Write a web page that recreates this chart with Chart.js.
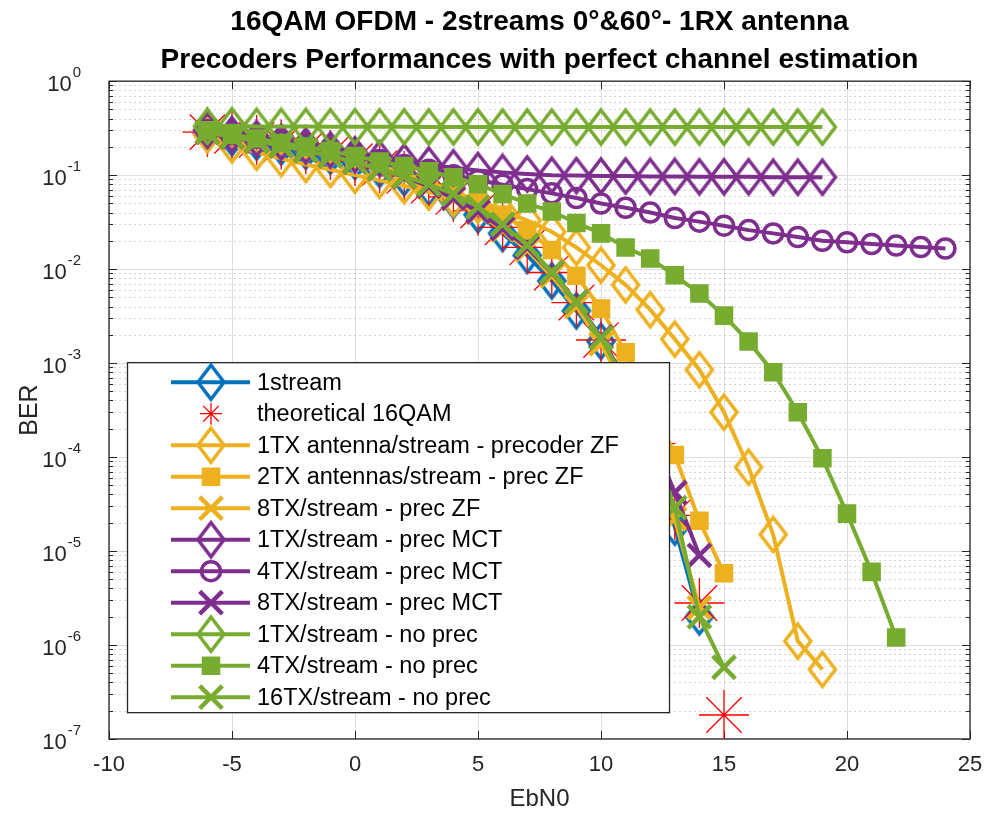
<!DOCTYPE html>
<html>
<head>
<meta charset="utf-8">
<title>16QAM OFDM precoders BER</title>
<script src="https://cdn.jsdelivr.net/npm/chart.js@4.4.0/dist/chart.umd.min.js"></script>
<style>
  body { margin: 0; background: #fff; }
  canvas { display: block; }
</style>
</head>
<body>
<canvas id="berChart" width="987" height="821"></canvas>
<script>
// EbN0 points (dB); each series starts at -6 and uses as many as it has values
const ebn0 = [-6, -5, -4, -3, -2, -1, 0, 1, 2, 3, 4, 5, 6, 7, 8, 9, 10, 11, 12, 13, 14, 15, 16, 17, 18, 19, 20, 21, 22, 23, 24];

const seriesNames = [
    '1stream',
    'theoretical 16QAM',
    '1TX antenna/stream - precoder ZF',
    '2TX antennas/stream - prec ZF',
    '8TX/stream - prec ZF',
    '1TX/stream - prec MCT',
    '4TX/stream - prec MCT',
    '8TX/stream - prec MCT',
    '1TX/stream - no prec',
    '4TX/stream - no prec',
    '16TX/stream - no prec'
];

const berOneStream = [0.28, 0.25, 0.225, 0.2, 0.18, 0.16, 0.14, 0.115, 0.094, 0.073, 0.054, 0.038, 0.024, 0.014, 0.0075, 0.0036, 0.0017, 5.5e-4, 1.3e-4, 1.8e-5, 2.0e-6];
const berTheory = [0.287, 0.262, 0.237, 0.212, 0.188, 0.164, 0.141, 0.119, 0.098, 0.0775, 0.0586, 0.0419, 0.0278, 0.017, 0.0092, 0.0044, 0.00176, 5.6e-4, 1.39e-4, 2.4e-5, 2.8e-6, 1.8e-7];
const berZf1 = [0.27, 0.21, 0.175, 0.15, 0.13, 0.115, 0.1, 0.088, 0.077, 0.066, 0.056, 0.048, 0.041, 0.033, 0.025, 0.017, 0.011, 0.0068, 0.0037, 0.0018, 8.5e-4, 3.0e-4, 7.8e-5, 1.5e-5, 1.1e-6, 5.5e-7];
const berZf2 = [0.29, 0.26, 0.235, 0.21, 0.19, 0.165, 0.145, 0.125, 0.105, 0.085, 0.068, 0.052, 0.038, 0.026, 0.016, 0.0085, 0.0038, 0.0013, 4.2e-4, 1.05e-4, 2.1e-5, 5.8e-6];
const berZf8 = [0.285, 0.255, 0.23, 0.205, 0.183, 0.16, 0.138, 0.116, 0.095, 0.075, 0.056, 0.04, 0.026, 0.016, 0.0085, 0.004, 0.0016, 5.2e-4, 1.2e-4, 2.2e-5, 2.5e-6];
const berMct1 = [0.3, 0.27, 0.245, 0.225, 0.205, 0.185, 0.165, 0.15, 0.138, 0.128, 0.12, 0.112, 0.107, 0.103, 0.1, 0.099, 0.098, 0.098, 0.097, 0.097, 0.096, 0.096, 0.096, 0.095, 0.095, 0.095];
const berMct4 = [0.3, 0.27, 0.25, 0.232, 0.215, 0.192, 0.165, 0.145, 0.128, 0.114, 0.1, 0.089, 0.079, 0.071, 0.064, 0.057, 0.05, 0.045, 0.04, 0.035, 0.032, 0.029, 0.026, 0.024, 0.022, 0.02, 0.0193, 0.0185, 0.0178, 0.0172, 0.0166];
const berMct8 = [0.285, 0.255, 0.23, 0.205, 0.183, 0.16, 0.138, 0.117, 0.096, 0.076, 0.057, 0.041, 0.027, 0.017, 0.0092, 0.0045, 0.0019, 6.5e-4, 1.8e-4, 4.2e-5, 9.0e-6];
const berNp1 = [0.33, 0.335, 0.33, 0.33, 0.33, 0.328, 0.328, 0.327, 0.327, 0.326, 0.326, 0.326, 0.325, 0.325, 0.325, 0.325, 0.325, 0.325, 0.325, 0.325, 0.325, 0.325, 0.325, 0.325, 0.325, 0.325];
const berNp4 = [0.3, 0.27, 0.245, 0.22, 0.2, 0.18, 0.16, 0.14, 0.125, 0.11, 0.095, 0.08, 0.063, 0.05, 0.041, 0.031, 0.024, 0.017, 0.013, 0.0086, 0.0055, 0.0032, 0.0017, 8.0e-4, 3.0e-4, 9.7e-5, 2.5e-5, 6.0e-6, 1.2e-6];
const berNp16 = [0.285, 0.255, 0.23, 0.205, 0.183, 0.16, 0.138, 0.117, 0.097, 0.08, 0.063, 0.046, 0.03, 0.018, 0.0093, 0.0045, 0.00185, 6.2e-4, 1.6e-4, 2.9e-5, 2.0e-6, 5.8e-7];

const xTicks = [-10, -5, 0, 5, 10, 15, 20, 25];
const yDecades = [-7, -6, -5, -4, -3, -2, -1, 0];

const BLUE = '#0072BD', RED = '#FF0000', YELLOW = '#EDB120', PURPLE = '#7E2F8E', GREEN = '#77AC30';
const FONT = '"Liberation Sans", Arial, Helvetica, sans-serif';

// MATLAB-like diamond, a little taller than wide, as an image point style
function makeDiamond(color) {
    const c = document.createElement('canvas');
    c.width = 32; c.height = 40;
    const g = c.getContext('2d');
    g.strokeStyle = color;
    g.lineWidth = 3.5;
    g.beginPath();
    g.moveTo(16, 3); g.lineTo(29, 20); g.lineTo(16, 37); g.lineTo(3, 20); g.closePath();
    g.stroke();
    return c;
}

// marker / line look of each series
const looks = [
    { data: berOneStream, color: BLUE, marker: 'diamond', r: 14, bw: 3.5 },
    { data: berTheory, color: RED, marker: 'star', r: 25, bw: 1.3, noLine: true, legendR: 11 },
    { data: berZf1, color: YELLOW, marker: 'diamond', r: 14, bw: 3.5 },
    { data: berZf2, color: YELLOW, marker: 'rect', r: 11, bw: 3, fill: true },
    { data: berZf8, color: YELLOW, marker: 'crossRot', r: 16, bw: 4.5 },
    { data: berMct1, color: PURPLE, marker: 'diamond', r: 14, bw: 3.5 },
    { data: berMct4, color: PURPLE, marker: 'circle', r: 9.5, bw: 3.5 },
    { data: berMct8, color: PURPLE, marker: 'crossRot', r: 16, bw: 4.5 },
    { data: berNp1, color: GREEN, marker: 'diamond', r: 14, bw: 3.5 },
    { data: berNp4, color: GREEN, marker: 'rect', r: 11, bw: 3, fill: true },
    { data: berNp16, color: GREEN, marker: 'crossRot', r: 16, bw: 4.5 }
];
looks.forEach(s => { if (s.marker === 'diamond') s.img = makeDiamond(s.color); });

const datasets = looks.map((s, i) => ({
    label: seriesNames[i],
    data: s.data.map((v, k) => ({ x: ebn0[k], y: v })),
    borderColor: s.color,
    backgroundColor: s.color,
    borderWidth: 4,
    showLine: !s.noLine,
    pointStyle: s.img || s.marker,
    pointRadius: s.r,
    pointBorderWidth: s.bw,
    pointBorderColor: s.color,
    pointBackgroundColor: s.fill ? s.color : 'rgba(0,0,0,0)',
    tension: 0,
    order: 20 - i   // later series drawn on top, like MATLAB
}));

function drawMarker(ctx, s, x, y) {
    const r = s.legendR || s.r;
    const d = r * Math.SQRT1_2;
    if (s.img) {
        ctx.drawImage(s.img, x - s.img.width / 2, y - s.img.height / 2);
        return;
    }
    ctx.save();
    ctx.strokeStyle = s.color;
    ctx.fillStyle = s.color;
    ctx.lineWidth = s.bw;
    ctx.beginPath();
    if (s.marker === 'rect') {
        ctx.rect(x - d, y - d, 2 * d, 2 * d);
    } else if (s.marker === 'circle') {
        ctx.arc(x, y, r, 0, Math.PI * 2);
    } else if (s.marker === 'crossRot') {
        ctx.moveTo(x - d, y - d); ctx.lineTo(x + d, y + d);
        ctx.moveTo(x - d, y + d); ctx.lineTo(x + d, y - d);
    } else if (s.marker === 'star') {
        ctx.moveTo(x - r, y); ctx.lineTo(x + r, y);
        ctx.moveTo(x, y - r); ctx.lineTo(x, y + r);
        ctx.moveTo(x - d, y - d); ctx.lineTo(x + d, y + d);
        ctx.moveTo(x - d, y + d); ctx.lineTo(x + d, y - d);
    }
    if (s.fill) ctx.fill();
    ctx.stroke();
    ctx.restore();
}

// box, inner ticks, minor grid and y labels with exponents
const axesFrame = {
    id: 'axesFrame',
    beforeDatasetsDraw(chart) {
        const ctx = chart.ctx, a = chart.chartArea;
        const xs = chart.scales.x, ys = chart.scales.y;
        ctx.save();
        // minor grid (dotted)
        ctx.strokeStyle = 'rgba(38,38,38,0.2)';
        ctx.lineWidth = 1;
        ctx.setLineDash([2, 3]);
        for (const e of yDecades) {
            if (e === 0) continue;
            for (let m = 2; m <= 9; m++) {
                const py = Math.round(ys.getPixelForValue(m * Math.pow(10, e))) + 0.5;
                ctx.beginPath(); ctx.moveTo(a.left, py); ctx.lineTo(a.right, py); ctx.stroke();
            }
        }
        ctx.setLineDash([]);
        // ticks inside the box
        ctx.strokeStyle = '#262626';
        ctx.lineWidth = 1;
        for (const e of yDecades) {
            for (let m = 1; m <= 9; m++) {
                if (e === 0 && m > 1) break;
                const py = Math.round(ys.getPixelForValue(m * Math.pow(10, e))) + 0.5;
                const len = m === 1 ? 8 : 4;
                ctx.beginPath();
                ctx.moveTo(a.left, py); ctx.lineTo(a.left + len, py);
                ctx.moveTo(a.right, py); ctx.lineTo(a.right - len, py);
                ctx.stroke();
            }
        }
        for (const t of xTicks) {
            const px = Math.round(xs.getPixelForValue(t)) + 0.5;
            ctx.beginPath();
            ctx.moveTo(px, a.bottom); ctx.lineTo(px, a.bottom - 8);
            ctx.moveTo(px, a.top); ctx.lineTo(px, a.top + 8);
            ctx.stroke();
        }
        ctx.lineWidth = 1.3;
        ctx.strokeRect(a.left, a.top, a.right - a.left, a.bottom - a.top);
        // y tick labels 10^n
        ctx.fillStyle = '#262626';
        const rightX = a.left - 28;
        for (const e of yDecades) {
            const py = ys.getPixelForValue(Math.pow(10, e));
            const exp = String(e);
            ctx.font = '15px ' + FONT;
            const ew = ctx.measureText(exp).width;
            ctx.textAlign = 'left';
            ctx.textBaseline = 'middle';
            ctx.fillText(exp, rightX - ew, py - 8);
            ctx.font = '22px ' + FONT;
            ctx.textAlign = 'right';
            ctx.fillText('10', rightX - ew - 1, py + 4);
        }
        ctx.restore();
    }
};

// legend box drawn over the data, bottom-left inside the axes
const boxLegend = {
    id: 'boxLegend',
    afterDatasetsDraw(chart) {
        const ctx = chart.ctx, a = chart.chartArea;
        const left = a.left + 18, top = a.top + 281, w = 542, h = 350;
        ctx.save();
        ctx.fillStyle = '#fff';
        ctx.fillRect(left, top, w, h);
        ctx.strokeStyle = '#262626';
        ctx.lineWidth = 1.3;
        ctx.strokeRect(left + 0.5, top + 0.5, w, h);
        looks.forEach((s, i) => {
            const y = top + 20 + i * 31.5;
            if (!s.noLine) {
                ctx.strokeStyle = s.color;
                ctx.lineWidth = 4;
                ctx.beginPath(); ctx.moveTo(left + 44, y); ctx.lineTo(left + 123, y); ctx.stroke();
            }
            drawMarker(ctx, s, left + 84, y);
            ctx.fillStyle = '#000';
            ctx.font = '23.5px ' + FONT;
            ctx.textAlign = 'left';
            ctx.textBaseline = 'middle';
            ctx.fillText(seriesNames[i], left + 130, y + 1);
        });
        ctx.restore();
    }
};

new Chart(document.getElementById('berChart'), {
    type: 'line',
    data: { datasets },
    options: {
        responsive: false,
        animation: false,
        events: [],
        layout: { autoPadding: false, padding: { left: 0, right: 17, top: 0, bottom: 0 } },
        plugins: {
            legend: { display: false },
            tooltip: { enabled: false },
            title: {
                display: true,
                fullSize: false,
                text: ['16QAM OFDM - 2streams 0°&60°- 1RX antenna', 'Precoders Performances with perfect channel estimation'],
                color: '#000',
                font: { family: FONT, size: 28, weight: 'bold', lineHeight: 1.36 },
                padding: { top: 3, bottom: 2 }
            }
        },
        scales: {
            x: {
                type: 'linear',
                min: -10,
                max: 25,
                afterFit: (scale) => { scale.height = 82; scale.paddingLeft = 0; scale.paddingRight = 0; },
                afterBuildTicks: (scale) => { scale.ticks = xTicks.map(v => ({ value: v })); },
                ticks: { color: '#262626', font: { family: FONT, size: 22 }, padding: 13, maxRotation: 0 },
                grid: { color: '#dedede', lineWidth: 1, drawTicks: false },
                border: { display: false },
                title: { display: true, text: 'EbN0', color: '#262626', font: { family: FONT, size: 24 }, padding: { top: 7, bottom: 7 } }
            },
            y: {
                type: 'logarithmic',
                min: 1e-7,
                max: 1,
                afterFit: (scale) => { scale.width = 109; scale.paddingTop = 0; scale.paddingBottom = 0; },
                afterBuildTicks: (scale) => { scale.ticks = yDecades.map(e => ({ value: Math.pow(10, e) })); },
                ticks: { display: false },
                grid: { color: '#dedede', lineWidth: 1, drawTicks: false },
                border: { display: false },
                title: { display: true, text: 'BER', color: '#262626', font: { family: FONT, size: 25 }, padding: { top: 15, bottom: 15 } }
            }
        }
    },
    plugins: [axesFrame, boxLegend]
});
</script>
</body>
</html>
